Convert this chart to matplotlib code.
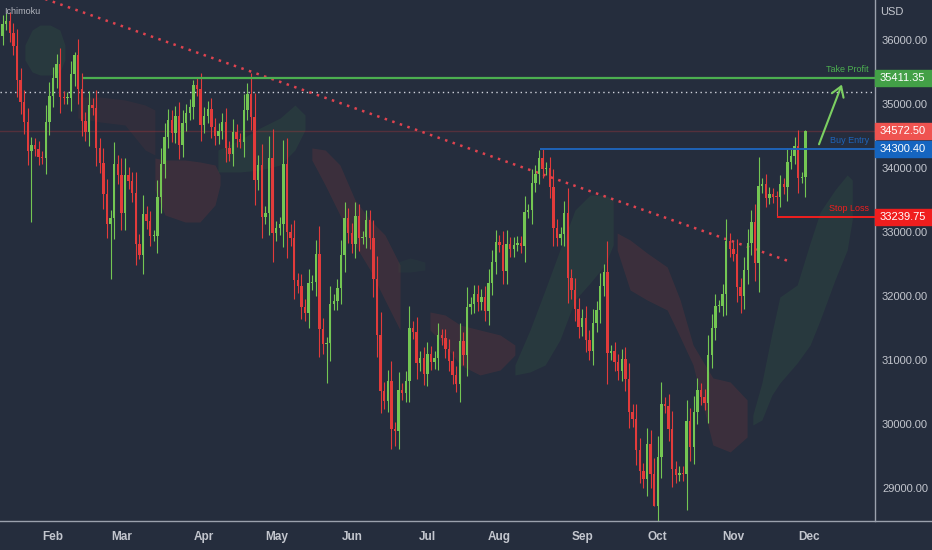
import numpy as np
import matplotlib
matplotlib.use("Agg")
import matplotlib.pyplot as plt
from matplotlib.patches import Rectangle
from matplotlib.lines import Line2D
import matplotlib.transforms as mtransforms

# daily closes, 10 Jan 2022 .. 30 Nov 2022 (trading days only)
closes_jan = [36068, 36252, 36290, 36113, 35912, 35368, 35029, 34715, 34265, 34365,
              34298, 34168, 34160, 34725, 35131]
closes_feb = [35405, 35630, 35111, 35089, 35092, 35463, 35768, 35241, 34738, 34566,
              34989, 34935, 34312, 34079, 33597, 33132, 33224, 34059, 33893]
closes_mar = [33295, 33892, 33795, 33615, 32818, 32633, 33286, 33174, 32944, 32945,
              33545, 34063, 34481, 34755, 34553, 34808, 34359, 34708, 34862, 34956,
              35294, 35229, 34678]
closes_apr = [34818, 34922, 34641, 34497, 34583, 34721, 34309, 34220, 34565, 34451,
              34412, 34912, 35161, 34793, 33811, 34049, 33240, 33302, 34160, 32977]
closes_may = [33061, 33128, 34061, 32998, 32899, 32246, 32161, 31834, 31730, 32197,
              32223, 32655, 31490, 31254, 31262, 31881, 31929, 32120, 32637, 33213, 32990]
closes_jun = [32813, 33248, 32900, 32916, 33180, 32910, 32273, 31393, 30517, 30365,
              30669, 29927, 29889, 30530, 30484, 30677, 31501, 31439, 30947, 31029, 30775]
closes_jul = [31097, 30967, 31037, 31385, 31338, 31173, 30981, 30773, 30630, 31289,
              31073, 31827, 31875, 32037, 31900, 31990, 31762, 32198, 32530, 32845]
closes_aug = [32798, 32397, 32813, 32727, 32803, 32833, 32775, 33310, 33337, 33761,
              33913, 34152, 33981, 33999, 33707, 33064, 32910, 32970, 33292, 32283,
              32099, 31791, 31510]
closes_sep = [31656, 31319, 31145, 31581, 31775, 32152, 32381, 31105, 31135, 30962,
              30822, 31020, 30706, 30184, 30077, 29590, 29261, 29135, 29684, 29226, 28726]
closes_oct = [29491, 30317, 30274, 29927, 29297, 29203, 29240, 29211, 30039, 29635,
              30186, 30524, 30424, 30334, 31083, 31500, 31837, 31839, 32034, 32862, 32733]
closes_nov = [32654, 32148, 32001, 32403, 32827, 33161, 32514, 33716, 33748, 33537,
              33593, 33554, 33546, 33746, 33700, 34098, 34195, 34347, 33850, 33853, 34572]
first_open = 36200

# notable wick extremes (candle index -> price)
high_ext = {2: 36420, 21: 35820, 54: 35370, 70: 35492, 150: 34281, 168: 32504, 224: 34600}
low_ext = {9: 33150, 31: 32272, 39: 32578, 91: 30635, 110: 29653, 182: 28715,
           191: 28660, 206: 31727, 216: 33240}

# ichimoku cloud outline as seen on the chart (bar index, upper, lower)
cloud_a_x = [7.2, 9.2, 11.4, 14.2, 16.9, 18.3]
cloud_a_hi = [35922, 36156, 36234, 36234, 36156, 35922]
cloud_a_lo = [35688, 35500, 35453, 35453, 35500, 35688]
cloud_b_x = [21.9, 28.1, 35.0, 40.6, 43.3]
cloud_b_hi = [35109, 35109, 35063, 34984, 34906]
cloud_b_lo = [34781, 34719, 34672, 34281, 34203]
cloud_c_x = [43.3, 46.1, 51.7, 55.8, 60.0, 61.4]
cloud_c_hi = [34156, 34125, 34125, 34094, 34047, 33891]
cloud_c_lo = [33656, 33266, 33156, 33156, 33422, 33734]
cloud_d_x = [60.8, 66.9, 72.5, 78.1, 82.2, 85.0]
cloud_d_hi = [34281, 34438, 34625, 34781, 34984, 34828]
cloud_d_lo = [33938, 33938, 33969, 34047, 34281, 34594]
cloud_e_x = [86.9, 90.6, 94.7, 98.9, 103.1, 107.2, 111.4]
cloud_e_hi = [34313, 34281, 34047, 33500, 33188, 32953, 32484]
cloud_e_lo = [34125, 33734, 33266, 32797, 32406, 31938, 31469]
cloud_f_x = [110.8, 114.2, 118.3]
cloud_f_hi = [32531, 32594, 32531]
cloud_f_lo = [32375, 32375, 32406]
cloud_g_x = [119.7, 123.9, 128.1, 133.6, 139.2, 143.3]
cloud_g_hi = [31750, 31703, 31547, 31469, 31391, 31234]
cloud_g_lo = [31469, 31234, 30922, 30766, 30844, 31078]
cloud_h_x = [143.3, 147.5, 151.7, 155.8, 160.0, 164.2, 168.3, 170.6]
cloud_h_hi = [30922, 31469, 32094, 32719, 33344, 33578, 33578, 33500]
cloud_h_lo = [30766, 30813, 30922, 31313, 31938, 32203, 32484, 32797]
cloud_i_x = [171.7, 175.3, 180.0, 185.6, 189.2, 192.8, 198.3, 203.1, 207.8]
cloud_i_hi = [32984, 32875, 32672, 32453, 31938, 31234, 30719, 30656, 30375]
cloud_i_lo = [32719, 32094, 31938, 31781, 31359, 30922, 29672, 29563, 29797]
cloud_j_x = [209.4, 211.9, 214.7, 216.9, 221.7, 225.3, 228.1, 232.2, 235.6, 237.0]
cloud_j_hi = [30141, 30641, 31422, 31984, 32172, 32828, 33313, 33656, 33891, 33813]
cloud_j_lo = [29984, 30063, 30453, 30641, 30953, 31234, 31625, 32250, 32719, 33188]

month_labels = ["Feb", "Mar", "Apr", "May", "Jun", "Jul", "Aug", "Sep", "Oct", "Nov", "Dec"]
month_starts = [15, 34, 57, 77, 98, 119, 139, 162, 183, 204, 225]
price_ticks = [29000, 30000, 31000, 32000, 33000, 34000, 35000, 36000]

take_profit = 35411.35
buy_entry = 34300.40
stop_loss = 33239.75
last_price = 34572.50
dotted_level = 35190
trend_pts = ([0, 219.2], [36895, 32547])
arrow_from = (227.5, 34330)
arrow_to = (234.4, 35344)

BG = "#252d3d"
GREEN = "#74c653"
RED = "#e23b3b"
TXT = "#c3c6ce"
FONT = ["Liberation Sans", "DejaVu Sans"]

close = np.array(closes_jan + closes_feb + closes_mar + closes_apr + closes_may + closes_jun
                 + closes_jul + closes_aug + closes_sep + closes_oct + closes_nov, dtype=float)
n = len(close)
idx = np.arange(n)
opn = np.concatenate([[first_open], close[:-1]])
body_hi = np.maximum(opn, close)
body_lo = np.minimum(opn, close)
wick = 0.3 * np.abs(close - opn) + 90
high = body_hi + wick
low = body_lo - wick
for k, v in high_ext.items():
    high[k] = v
for k, v in low_ext.items():
    low[k] = v

fig = plt.figure(figsize=(9.32, 5.5), dpi=100, facecolor=BG)
ax = fig.add_axes([0, 29 / 550, 875 / 932, 521 / 550])
ax.set_facecolor(BG)

clouds = [
    (cloud_a_x, cloud_a_hi, cloud_a_lo, "#43a047"),
    (cloud_b_x, cloud_b_hi, cloud_b_lo, "#f44336"),
    (cloud_c_x, cloud_c_hi, cloud_c_lo, "#f44336"),
    (cloud_d_x, cloud_d_hi, cloud_d_lo, "#43a047"),
    (cloud_e_x, cloud_e_hi, cloud_e_lo, "#f44336"),
    (cloud_f_x, cloud_f_hi, cloud_f_lo, "#43a047"),
    (cloud_g_x, cloud_g_hi, cloud_g_lo, "#f44336"),
    (cloud_h_x, cloud_h_hi, cloud_h_lo, "#43a047"),
    (cloud_i_x, cloud_i_hi, cloud_i_lo, "#f44336"),
    (cloud_j_x, cloud_j_hi, cloud_j_lo, "#43a047"),
]
for cx, chi, clo, col in clouds:
    a = 0.06 if (cx is cloud_b_x or cx is cloud_f_x) else 0.11
    ax.fill_between(cx, chi, clo, color=col, alpha=a, lw=0)

# reference lines
ax.axhline(last_price, color=RED, alpha=0.25, lw=1)
ax.axhline(dotted_level, color="#d0d3dc", lw=1, linestyle=(0, (1, 2.5)))
ax.plot(*trend_pts, color="#e0434f", lw=1.8, linestyle=(0, (1, 2.2)))

# candles
up = close >= opn
cols = np.where(up, GREEN, RED)
ax.vlines(idx, low, high, colors=cols, lw=0.8, zorder=3)
ax.bar(idx, np.maximum(body_hi - body_lo, 15), bottom=body_lo, width=0.62,
       color=cols, lw=0, zorder=4)

# trade levels
ax.hlines(take_profit, 23.3, 250, color="#4caf50", lw=1.6, zorder=5)
ax.hlines(buy_entry, 150.3, 250, color="#1e63b8", lw=1.4, zorder=5)
ax.hlines(stop_loss, 216.1, 250, color="#f01e1e", lw=1.4, zorder=5)
ax.text(241.6, take_profit + 60, "Take Profit", color="#4caf50", fontsize=6.5, family=FONT,
        ha="right", va="bottom")
ax.text(241.6, buy_entry + 60, "Buy Entry", color="#1e63b8", fontsize=6.5, family=FONT,
        ha="right", va="bottom")
ax.text(241.6, stop_loss + 60, "Stop Loss", color="#f01e1e", fontsize=6.5, family=FONT,
        ha="right", va="bottom")

ax.annotate("", xy=arrow_to, xytext=arrow_from,
            arrowprops=dict(arrowstyle="->,head_length=0.7,head_width=0.45", color="#7ccf62", lw=1.5))

ax.set_xlim(0.278, 243.33)
ax.set_ylim(28484, 36625)

# axes styling
for s in ["top", "left", "bottom"]:
    ax.spines[s].set_visible(False)
ax.spines["right"].set_color("#9ba1ad")
ax.spines["right"].set_linewidth(1)
fig.add_artist(Line2D([0, 1], [29 / 550, 29 / 550], color="#9ba1ad", lw=1))

ax.yaxis.tick_right()
ax.set_yticks(price_ticks)
ax.set_yticklabels([f"{p:.2f}" for p in price_ticks], color=TXT, fontsize=8, family=FONT)
ax.tick_params(axis="y", length=0, pad=5)
ax.set_xticks(month_starts)
ax.set_xticklabels(month_labels, color=TXT, fontsize=8.5, family=FONT, fontweight="bold")
ax.tick_params(axis="x", length=0, pad=7)

# price axis labels
tr = mtransforms.blended_transform_factory(ax.transAxes, ax.transData)
for price, col in [(take_profit, "#43a047"), (last_price, "#ef5350"),
                   (buy_entry, "#1565c0"), (stop_loss, "#f01e1e")]:
    ax.add_patch(Rectangle((1.0, price - 125), 0.07, 250, transform=tr,
                           color=col, clip_on=False, zorder=6))
    ax.text(1.0 + 5 / 875, price, f"{price:.2f}", transform=tr, color="white",
            fontsize=8, family=FONT, va="center", ha="left", zorder=7, clip_on=False)

fig.text(880 / 932, 1 - 12 / 550, "USD", color=TXT, fontsize=8, family=FONT, va="center")
fig.text(4 / 932, 1 - 11 / 550, "Ichimoku", color="#b2b5be", fontsize=6.5, family=FONT, va="center")

fig.savefig("out.png", dpi=100, facecolor=BG)
